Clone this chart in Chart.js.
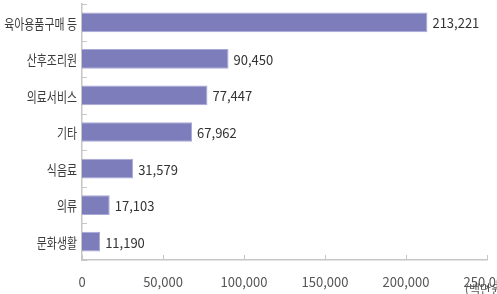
<!DOCTYPE html>
<html>
<head>
<meta charset="utf-8">
<script src="https://cdn.jsdelivr.net/npm/chart.js@4.4.1/dist/chart.umd.min.js"></script>
<style>
  html, body { margin: 0; padding: 0; background: #fff; overflow: hidden; }
  #wrap { position: relative; width: 497px; height: 294px; }
</style>
</head>
<body>
<div id="wrap"><canvas id="chart" width="497" height="294"></canvas></div>
<script>
const categories = ['육아용품구매 등', '산후조리원', '의료서비스', '기타', '식음료', '의류', '문화생활'];
const values = [213221, 90450, 77447, 67962, 31579, 17103, 11190];
const xTicks = [0, 50000, 100000, 150000, 200000, 250000];
const unitLabel = '(백만원)';

const AXIS_COLOR = '#c6c6c6';
const BAR_COLOR = '#7d7dbb';
const FONT = "'Noto Sans CJK KR', 'Noto Sans', sans-serif";

const fmt = v => v.toLocaleString('en-US');

// category names, value labels, inner tick marks and the unit note
const decorations = {
  id: 'decorations',
  afterDraw(chart) {
    const { ctx, chartArea, scales } = chart;
    const x = scales.x;
    const y = scales.y;
    const step = (y.bottom - y.top) / categories.length;
    ctx.save();

    // short ticks pointing into the plot
    ctx.strokeStyle = AXIS_COLOR;
    ctx.lineWidth = 1;
    ctx.beginPath();
    for (let i = 0; i <= categories.length; i++) {
      const py = Math.round(y.top + i * step) + 0.5;
      ctx.moveTo(chartArea.left, py);
      ctx.lineTo(chartArea.left + 5, py);
    }
    xTicks.forEach(t => {
      const px = Math.round(x.getPixelForValue(t)) + 0.5;
      ctx.moveTo(px, chartArea.bottom);
      ctx.lineTo(px, chartArea.bottom - 5);
    });
    ctx.stroke();

    // category labels (narrow glyphs like the original)
    ctx.font = '14px ' + FONT;
    ctx.fillStyle = '#3c3c3c';
    ctx.textAlign = 'right';
    ctx.textBaseline = 'middle';
    categories.forEach((c, i) => {
      ctx.save();
      ctx.translate(chartArea.left - 5, y.getPixelForValue(i) + 1);
      ctx.scale(0.78, 1);
      ctx.fillText(c, 0, 0);
      ctx.restore();
    });

    // value labels at bar ends
    ctx.font = '13px ' + FONT;
    ctx.textAlign = 'left';
    ctx.fillStyle = '#333';
    chart.getDatasetMeta(0).data.forEach((bar, i) => {
      ctx.fillText(fmt(values[i]), bar.x + 5, bar.y + 1);
    });

    // unit
    ctx.font = '12px ' + FONT;
    ctx.fillStyle = '#555';
    ctx.fillText(unitLabel, x.getPixelForValue(250000) - 22, chartArea.bottom + 29);
    ctx.restore();
  }
};

new Chart(document.getElementById('chart'), {
  type: 'bar',
  data: {
    labels: categories,
    datasets: [{
      data: values,
      backgroundColor: BAR_COLOR,
      borderColor: '#a8a8d6',
      borderWidth: 1,
      barPercentage: 0.54,
      categoryPercentage: 1
    }]
  },
  options: {
    indexAxis: 'y',
    responsive: false,
    animation: false,
    layout: { padding: { top: 4, right: 10, left: 0, bottom: 0 } },
    plugins: {
      legend: { display: false },
      tooltip: { enabled: false }
    },
    scales: {
      x: {
        type: 'linear',
        min: 0,
        max: 250000,
        grid: { display: false },
        border: { display: true, color: AXIS_COLOR, width: 1.5 },
        ticks: {
          stepSize: 50000,
          autoSkip: false,
          maxRotation: 0,
          padding: 6,
          color: '#555',
          font: { size: 13, family: FONT },
          callback: v => fmt(v)
        },
        afterFit(scale) {
          scale.height = 34;
          scale.paddingLeft = 0;
          scale.paddingRight = 0;
        }
      },
      y: {
        grid: { display: false },
        border: { display: true, color: AXIS_COLOR, width: 1.5 },
        ticks: { display: false },
        afterFit(scale) {
          scale.width = 82;
        }
      }
    }
  },
  plugins: [decorations]
});
</script>
</body>
</html>
